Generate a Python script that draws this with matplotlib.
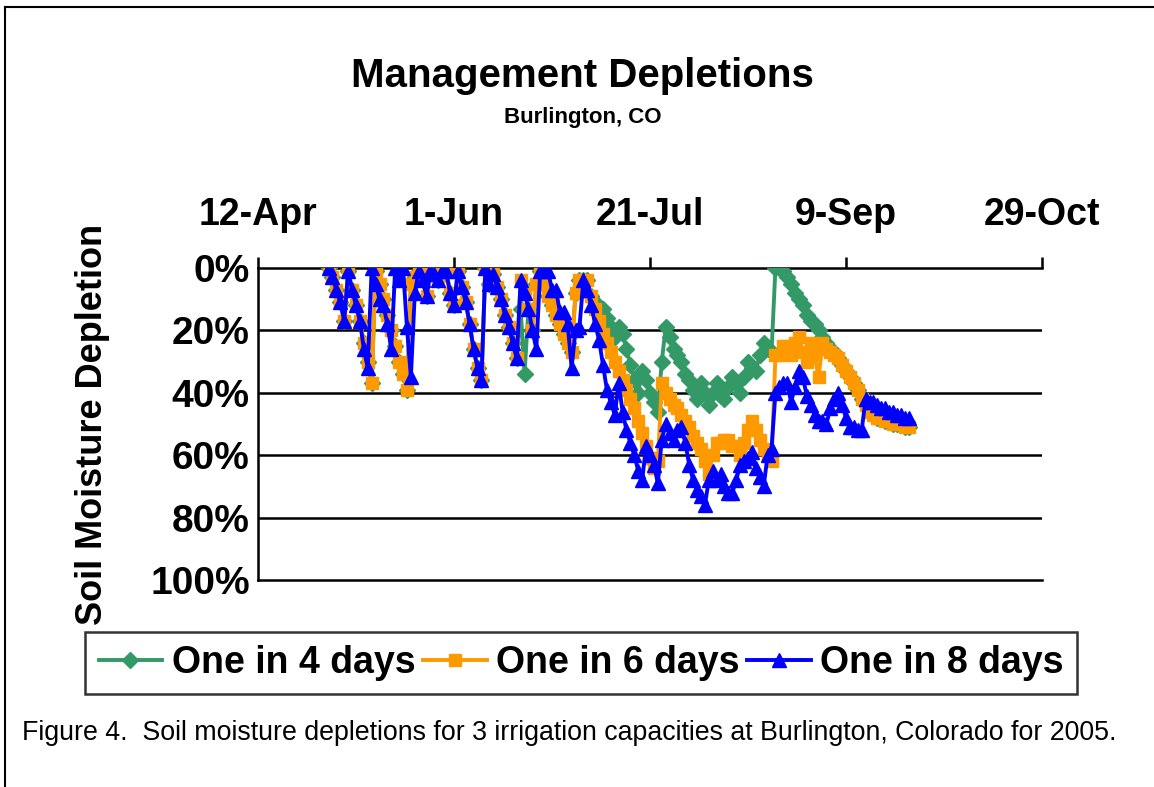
import numpy as np
import pandas as pd
import matplotlib
matplotlib.use("Agg")
import matplotlib.pyplot as plt
from matplotlib.lines import Line2D

plt.rcParams['font.family'] = ['Liberation Sans', 'DejaVu Sans']

# daily values, 30-Apr-2005 .. 25-Sep-2005 (soil moisture depletion, %)
start_date = "2005-04-30"

one_in_4 = [
    0, 3, 7, 11, 17, 1, 7, 12, 17, 24,
    30, 37, 1, 5, 10, 15, 20, 25, 30, 34,
    39, 5, 3, 1, 4, 9, 1, 2, 4, 1,
    1, 8, 12, 1, 6, 11, 18, 26, 32, 36,
    0, 5, 2, 6, 10, 15, 19, 24, 29, 13,
    34, 13, 20, 5, 1, 5, 9, 12, 15, 18,
    21, 24, 27, 8, 4, 4, 4, 9, 11, 13,
    13, 16, 19, 22, 19, 21, 26, 31, 36, 40,
    33, 36, 40, 43, 46, 30, 19, 22, 26, 28,
    30, 34, 36, 39, 42, 37, 40, 44, 40, 37,
    41, 42, 38, 35, 37, 40, 35, 30, 32, 33,
    28, 24, 26, 27, 0, 0, 1, 3, 5, 8,
    10, 12, 15, 17, 18, 20, 22, 24, 26, 27,
    29, 31, 33, 35, 37, 39, 42, 44, 46, 47,
    48, 48, 49, 49, 50, 50, 50, 51, 51,
]

one_in_6 = [
    0, 3, 7, 11, 17, 1, 7, 12, 17, 24,
    30, 37, 1, 5, 10, 15, 20, 25, 30, 34,
    39, 5, 3, 1, 4, 9, 1, 2, 4, 1,
    1, 8, 12, 1, 6, 11, 18, 26, 32, 36,
    0, 5, 2, 6, 10, 15, 19, 24, 29, 4,
    8, 13, 20, 5, 1, 5, 9, 12, 15, 18,
    21, 24, 27, 8, 4, 4, 4, 9, 13, 17,
    21, 24, 27, 30, 33, 36, 39, 42, 45, 49,
    53, 57, 61, 64, 62, 37, 40, 42, 44, 45,
    47, 49, 51, 54, 56, 58, 62, 66, 60, 56,
    56, 55, 55, 57, 57, 60, 56, 52, 49, 52,
    55, 58, 60, 62, 28, 28, 25, 25, 28, 24,
    22, 27, 30, 24, 28, 35, 24, 26, 27, 28,
    29, 31, 33, 35, 37, 39, 42, 44, 46, 47,
    48, 48, 49, 49, 50, 50, 50, 51, 51,
]

one_in_8 = [
    0, 3, 7, 11, 17, 1, 7, 12, 17, 26,
    32, 0, 5, 10, 12, 18, 26, 0, 4, 0,
    19, 35, 8, 1, 4, 9, 1, 2, 4, 1,
    1, 8, 12, 1, 6, 11, 18, 26, 32, 36,
    0, 5, 2, 6, 10, 15, 19, 24, 29, 4,
    8, 13, 20, 26, 1, 1, 1, 7, 7, 14,
    14, 18, 32, 20, 19, 4, 7, 12, 18, 23,
    31, 39, 43, 47, 37, 46, 52, 56, 60, 65,
    68, 57, 60, 63, 69, 55, 50, 53, 55, 52,
    51, 56, 63, 68, 71, 73, 76, 68, 65, 68,
    66, 70, 72, 72, 68, 63, 62, 61, 59, 64,
    67, 70, 60, 58, 40, 38, 37, 37, 43, 38,
    33, 35, 41, 44, 47, 49, 49, 50, 45, 42,
    40, 44, 48, 51, 51, 52, 52, 42, 43, 43,
    44, 45, 45, 46, 46, 47, 47, 48, 48,
]

tick_dates = ["2005-04-12", "2005-06-01", "2005-07-21", "2005-09-09", "2005-10-29"]
tick_labels = ["12-Apr", "1-Jun", "21-Jul", "9-Sep", "29-Oct"]
y_ticks = [0, 20, 40, 60, 80, 100]

dates = pd.date_range(start_date, periods=len(one_in_8), freq="D")

fig = plt.figure(figsize=(11.54, 7.87), dpi=100)
ax = fig.add_axes([258/1154, 1-580/787, (1042-258)/1154, (580-268)/787])

ax.plot(dates, one_in_4, color="#339966", lw=2.8, marker="D", ms=8, label="One in 4 days", zorder=3)
ax.plot(dates, one_in_6, color="#FF9900", lw=2.8, marker="s", ms=8.5, label="One in 6 days", zorder=4)
ax.plot(dates, one_in_8, color="#0000FF", lw=2.8, marker="^", ms=10.5, label="One in 8 days", zorder=5)

ax.set_xlim(pd.Timestamp(tick_dates[0]), pd.Timestamp(tick_dates[-1]))
ax.set_ylim(100, 0)
for v in y_ticks[1:-1]:
    ax.axhline(v, color="black", lw=1.8, zorder=1)

ax.xaxis.tick_top()
ax.set_xticks([pd.Timestamp(d) for d in tick_dates])
ax.set_xticklabels(tick_labels, fontsize=27, fontweight="bold")
ax.set_yticks(y_ticks)
ax.set_yticklabels([f"{v}%" for v in y_ticks], fontsize=28, fontweight="bold")
ax.tick_params(axis="x", direction="out", length=8, width=1.8, pad=17)
ax.tick_params(axis="y", length=0, pad=6)

for s in ["top", "bottom", "left"]:
    ax.spines[s].set_linewidth(1.8)
ax.spines["right"].set_visible(False)
ax.set_facecolor("none")

fig.text(93/1154, 1-424/787, "Soil Moisture Depletion", rotation=90, fontsize=26,
         fontweight="bold", ha="center", va="center")
fig.text(582/1154, 1-76/787, "Management Depletions", fontsize=29, fontweight="bold",
         ha="center", va="center")
fig.text(583/1154, 1-118/787, "Burlington, CO", fontsize=16, fontweight="bold",
         ha="center", va="center")
fig.text(22/1154, 1-733/787,
         "Figure 4.  Soil moisture depletions for 3 irrigation capacities at Burlington, Colorado for 2005.",
         fontsize=19.3, ha="left", va="center")

leg = fig.legend(loc="center", bbox_to_anchor=(581/1154, 1-663/787), ncol=3,
                 prop={"size": 27, "weight": "bold"}, numpoints=1, handlelength=1.7,
                 handletextpad=0.25, columnspacing=0.2, borderpad=0.35,
                 fancybox=False, frameon=True, edgecolor="black", borderaxespad=0)
leg.get_frame().set_linewidth(1.8)

# border around the whole figure
fig.add_artist(Line2D([5/1154, 5/1154], [0, 1-7/787], color="black", lw=1.5, transform=fig.transFigure))
fig.add_artist(Line2D([5/1154, 1], [1-7/787, 1-7/787], color="black", lw=1.5, transform=fig.transFigure))

fig.savefig("out.png", dpi=100)
